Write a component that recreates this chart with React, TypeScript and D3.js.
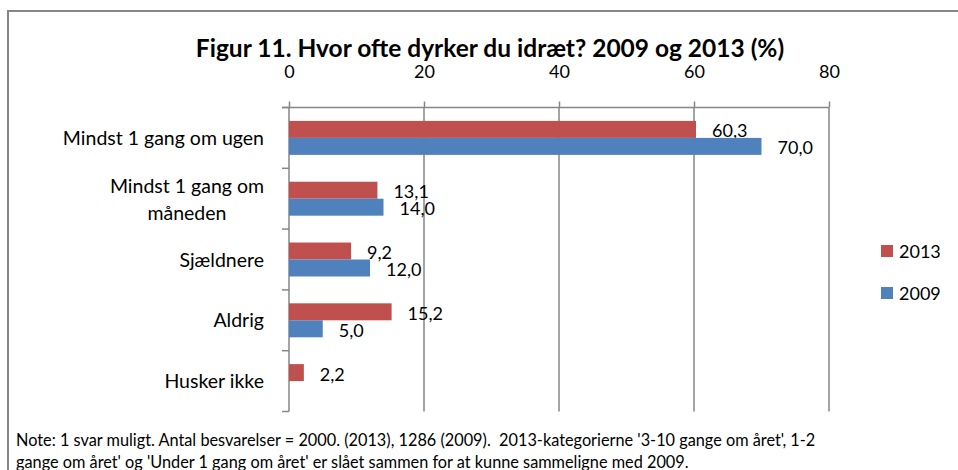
import React, { useEffect, useRef } from 'react';
import * as d3 from 'd3';

// data
const categories = ['Mindst 1 gang om ugen', 'Mindst 1 gang om måneden', 'Sjældnere', 'Aldrig', 'Husker ikke'];
const seriesNames = ['2013', '2009'];
const values2013 = [60.3, 13.1, 9.2, 15.2, 2.2];
const values2009: (number | null)[] = [70.0, 14.0, 12.0, 5.0, null];
const xTicks = [0, 20, 40, 60, 80];
const colors = ['#C0504D', '#4F81BD'];
const title = 'Figur 11. Hvor ofte dyrker du idræt? 2009 og 2013 (%)';
const noteLines = [
  "Note: 1 svar muligt. Antal besvarelser = 2000. (2013), 1286 (2009).  2013-kategorierne '3-10 gange om året', 1-2",
  "gange om året' og 'Under 1 gang om året' er slået sammen for at kunne sammeligne med 2009.",
];

const FONT = 'Lato, "Open Sans", sans-serif';

const wrap = (s: string) => {
  if (s.length <= 22) return [s];
  const i = s.lastIndexOf(' ');
  return [s.slice(0, i), s.slice(i + 1)];
};

const App = () => {
  const ref = useRef<SVGSVGElement>(null);

  useEffect(() => {
    const svg = d3.select(ref.current);
    svg.selectAll('*').remove();

    const left = 289, right = 829, top = 107.5, bottom = 411.5;
    const x = d3.scaleLinear().domain([0, 80]).range([left, right]);
    const y = d3.scaleBand().domain(categories).range([top, bottom]);
    const ys = d3.scaleBand().domain(seriesNames).range([0, y.bandwidth()]).paddingInner(0).paddingOuter(0.79);
    const fmt = (v: number) => d3.format('.1f')(v).replace('.', ',');

    // outer frame
    svg.append('path')
      .attr('d', 'M8,470V11H958')
      .attr('fill', 'none')
      .attr('stroke', '#868686')
      .attr('stroke-width', 2);

    svg.append('text')
      .attr('x', 490)
      .attr('y', 57)
      .attr('text-anchor', 'middle')
      .style('font-family', FONT)
      .style('font-weight', 'bold')
      .style('font-size', '24.5px')
      .text(title);

    // gridlines
    svg.append('g').selectAll('line')
      .data(xTicks.slice(1))
      .enter()
      .append('line')
      .attr('x1', d => x(d)).attr('x2', d => x(d))
      .attr('y1', top).attr('y2', bottom)
      .attr('stroke', '#868686')
      .attr('stroke-width', 1.5);

    // top axis
    const ax = svg.append('g')
      .attr('transform', `translate(0,${top})`)
      .call(d3.axisTop(x).tickValues(xTicks).tickSize(6).tickPadding(24).tickSizeOuter(0));
    ax.select('.domain').attr('stroke', '#868686').attr('stroke-width', 1.5).attr('d', `M${left - 7},0H${right}`);
    ax.selectAll('.tick line').attr('stroke', '#868686').attr('stroke-width', 1.5);
    ax.selectAll('.tick text')
      .attr('fill', '#000')
      .style('font-family', FONT)
      .style('font-size', '18px');

    // left axis
    const bounds = categories.map(c => y(c) as number).concat([bottom]);
    svg.append('line')
      .attr('x1', left).attr('x2', left)
      .attr('y1', top).attr('y2', bottom)
      .attr('stroke', '#868686').attr('stroke-width', 1.5);
    svg.append('g').selectAll('line')
      .data(bounds)
      .enter()
      .append('line')
      .attr('x1', left - 7).attr('x2', left)
      .attr('y1', d => d).attr('y2', d => d)
      .attr('stroke', '#868686').attr('stroke-width', 1.5);

    // category labels, right aligned block, wrapped lines centred inside it
    const labelRight = 264;
    categories.forEach(c => {
      const lines = wrap(c);
      const cy = (y(c) as number) + y.bandwidth() / 2;
      const lh = 27;
      const t = svg.append('text')
        .attr('text-anchor', lines.length > 1 ? 'middle' : 'end')
        .style('font-family', FONT)
        .style('font-size', '19.5px');
      const spans = lines.map((ln, i) =>
        t.append('tspan')
          .attr('x', labelRight)
          .attr('y', cy + 7 + (i - (lines.length - 1) / 2) * lh + (lines.length > 1 ? 1 : 0))
          .text(ln));
      if (lines.length > 1) {
        const w = d3.max(spans, s => (s.node() as SVGTSpanElement).getComputedTextLength()) || 0;
        spans.forEach(s => s.attr('x', labelRight - w / 2));
      }
    });

    // bars
    const series = [values2013, values2009];
    series.forEach((vals, si) => {
      const rows = categories
        .map((c, i) => ({ c, v: vals[i] }))
        .filter(d => d.v != null) as { c: string; v: number }[];
      const g = svg.append('g');
      g.selectAll('rect')
        .data(rows)
        .enter()
        .append('rect')
        .attr('x', left)
        .attr('y', d => (y(d.c) as number) + (ys(seriesNames[si]) as number))
        .attr('width', d => x(d.v) - left)
        .attr('height', ys.bandwidth())
        .attr('fill', colors[si]);
      g.selectAll('text')
        .data(rows)
        .enter()
        .append('text')
        .attr('x', d => x(d.v) + 16)
        .attr('y', d => (y(d.c) as number) + (ys(seriesNames[si]) as number) + ys.bandwidth() / 2 + 8)
        .style('font-family', FONT)
        .style('font-size', '18px')
        .text(d => fmt(d.v));
    });

    // legend
    seriesNames.forEach((s, i) => {
      const ly = 245 + i * 42;
      svg.append('rect')
        .attr('x', 881).attr('y', ly)
        .attr('width', 12).attr('height', 12)
        .attr('fill', colors[i]);
      svg.append('text')
        .attr('x', 899).attr('y', ly + 12.5)
        .style('font-family', FONT)
        .style('font-size', '18px')
        .text(s);
    });

    // note
    svg.append('g').selectAll('text')
      .data(noteLines)
      .enter()
      .append('text')
      .attr('x', 16)
      .attr('y', (d, i) => 446 + i * 22)
      .attr('xml:space', 'preserve')
      .style('white-space', 'pre')
      .style('font-family', FONT)
      .style('font-size', '16.3px')
      .text(d => d);
  }, []);

  return (
    <svg
      ref={ref}
      width={958}
      height={470}
      style={{ position: 'absolute', left: 0, top: 0, background: '#fff' }}
    />
  );
};

export default App;
